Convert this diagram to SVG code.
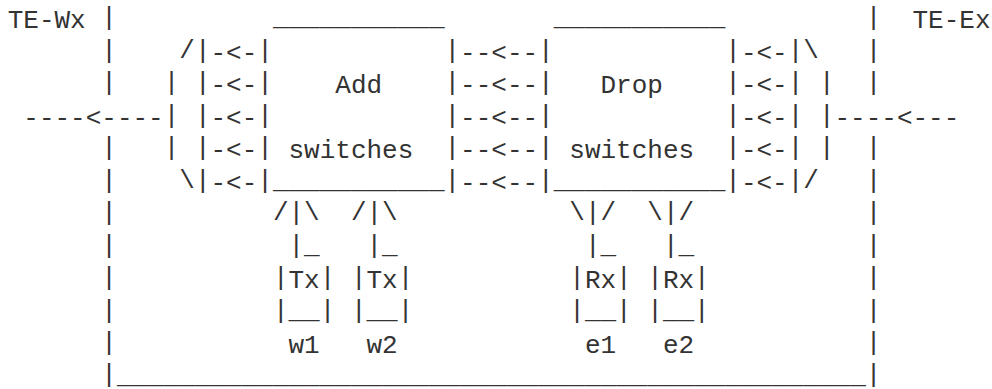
<svg xmlns="http://www.w3.org/2000/svg" width="992" height="389" viewBox="0 0 992 389" xml:space="preserve">
<style>
text { font-family: "Liberation Mono", "DejaVu Sans Mono", monospace; font-size: 26px; fill: #333333; white-space: pre; }
.s { transform: translateY(-3px); }
</style>
<rect x="0" y="0" width="992" height="389" fill="#ffffff"/>
<g id="label-te-wx"><text x="7.7" y="28">TE-Wx</text></g>
<g id="label-te-ex"><text x="912.5" y="28">TE-Ex</text></g>
<g id="frame" class="s">
<text x="101.3" y="28">|</text><text x="101.3" y="60.5">|</text><text x="101.3" y="93">|</text>
<text x="101.3" y="158">|</text><text x="101.3" y="190.5">|</text><text x="101.3" y="223">|</text>
<text x="101.3" y="255.5">|</text><text x="101.3" y="288">|</text><text x="101.3" y="320.5">|</text>
<text x="101.3" y="353">|</text><text x="101.3" y="385">|</text>
<text x="865.7" y="28">|</text><text x="865.7" y="60.5">|</text><text x="865.7" y="93">|</text>
<text x="865.7" y="158">|</text><text x="865.7" y="190.5">|</text><text x="865.7" y="223">|</text>
<text x="865.7" y="255.5">|</text><text x="865.7" y="288">|</text><text x="865.7" y="320.5">|</text>
<text x="865.7" y="353">|</text><text x="865.7" y="385">|</text>
<text x="116.9" y="385.5">________________________________________________</text>
</g>
<g id="mux-west" class="s">
<text x="179.3" y="60.5">/</text><text x="194.9" y="60.5">|</text>
<text x="163.7" y="93">|</text><text x="194.9" y="93">|</text>
<text x="163.7" y="125.5">|</text><text x="194.9" y="125.5">|</text>
<text x="163.7" y="158">|</text><text x="194.9" y="158">|</text>
<text x="179.3" y="190.5">\</text><text x="194.9" y="190.5">|</text>
</g>
<g id="add-switches">
<g class="s">
<text x="272.9" y="28">___________</text>
<text x="257.3" y="60.5">|</text><text x="444.5" y="60.5">|</text>
<text x="257.3" y="93">|</text><text x="444.5" y="93">|</text>
<text x="257.3" y="125.5">|</text><text x="444.5" y="125.5">|</text>
<text x="257.3" y="158">|</text><text x="444.5" y="158">|</text>
<text x="257.3" y="190.5">|</text><text x="444.5" y="190.5">|</text>
<text x="272.9" y="190.5">___________</text>
</g>
<text x="335.3" y="93">Add</text>
<text x="288.5" y="158">switches</text>
</g>
<g id="drop-switches">
<g class="s">
<text x="553.7" y="28">___________</text>
<text x="538.1" y="60.5">|</text><text x="725.3" y="60.5">|</text>
<text x="538.1" y="93">|</text><text x="725.3" y="93">|</text>
<text x="538.1" y="125.5">|</text><text x="725.3" y="125.5">|</text>
<text x="538.1" y="158">|</text><text x="725.3" y="158">|</text>
<text x="538.1" y="190.5">|</text><text x="725.3" y="190.5">|</text>
<text x="553.7" y="190.5">___________</text>
</g>
<text x="600.5" y="93">Drop</text>
<text x="569.3" y="158">switches</text>
</g>
<g id="demux-east" class="s">
<text x="787.7" y="60.5">|</text><text x="803.3" y="60.5">\</text>
<text x="787.7" y="93">|</text><text x="818.9" y="93">|</text>
<text x="787.7" y="125.5">|</text><text x="818.9" y="125.5">|</text>
<text x="787.7" y="158">|</text><text x="818.9" y="158">|</text>
<text x="787.7" y="190.5">|</text><text x="803.3" y="190.5">/</text>
</g>
<g id="tx-w1">
<g class="s">
<text x="304.1" y="255.5">_</text>
<text x="272.9" y="288">|</text><text x="319.7" y="288">|</text>
<text x="272.9" y="320.5">|__|</text>
</g>
<text x="288.5" y="288">Tx</text>
<text x="288.5" y="353">w1</text>
</g>
<g id="tx-w2">
<g class="s">
<text x="382.1" y="255.5">_</text>
<text x="350.9" y="288">|</text><text x="397.7" y="288">|</text>
<text x="350.9" y="320.5">|__|</text>
</g>
<text x="366.5" y="288">Tx</text>
<text x="366.5" y="353">w2</text>
</g>
<g id="rx-e1">
<g class="s">
<text x="600.5" y="255.5">_</text>
<text x="569.3" y="288">|</text><text x="616.1" y="288">|</text>
<text x="569.3" y="320.5">|__|</text>
</g>
<text x="584.9" y="288">Rx</text>
<text x="584.9" y="353">e1</text>
</g>
<g id="rx-e2">
<g class="s">
<text x="678.5" y="255.5">_</text>
<text x="647.3" y="288">|</text><text x="694.1" y="288">|</text>
<text x="647.3" y="320.5">|__|</text>
</g>
<text x="662.9" y="288">Rx</text>
<text x="662.9" y="353">e2</text>
</g>
<g id="connectors">
<text x="23.3" y="125.5">----&lt;----</text>
<text x="834.5" y="125.5">----&lt;---</text>
<text x="210.5" y="60.5">-&lt;-</text><text x="210.5" y="93">-&lt;-</text><text x="210.5" y="125.5">-&lt;-</text><text x="210.5" y="158">-&lt;-</text><text x="210.5" y="190.5">-&lt;-</text>
<text x="460.1" y="60.5">--&lt;--</text><text x="460.1" y="93">--&lt;--</text><text x="460.1" y="125.5">--&lt;--</text><text x="460.1" y="158">--&lt;--</text><text x="460.1" y="190.5">--&lt;--</text>
<text x="740.9" y="60.5">-&lt;-</text><text x="740.9" y="93">-&lt;-</text><text x="740.9" y="125.5">-&lt;-</text><text x="740.9" y="158">-&lt;-</text><text x="740.9" y="190.5">-&lt;-</text>
<g class="s">
<text x="272.9" y="223">/|\</text><text x="288.5" y="255.5">|</text>
<text x="350.9" y="223">/|\</text><text x="366.5" y="255.5">|</text>
<text x="569.3" y="223">\|/</text><text x="584.9" y="255.5">|</text>
<text x="647.3" y="223">\|/</text><text x="662.9" y="255.5">|</text>
</g>
</g>
</svg>
